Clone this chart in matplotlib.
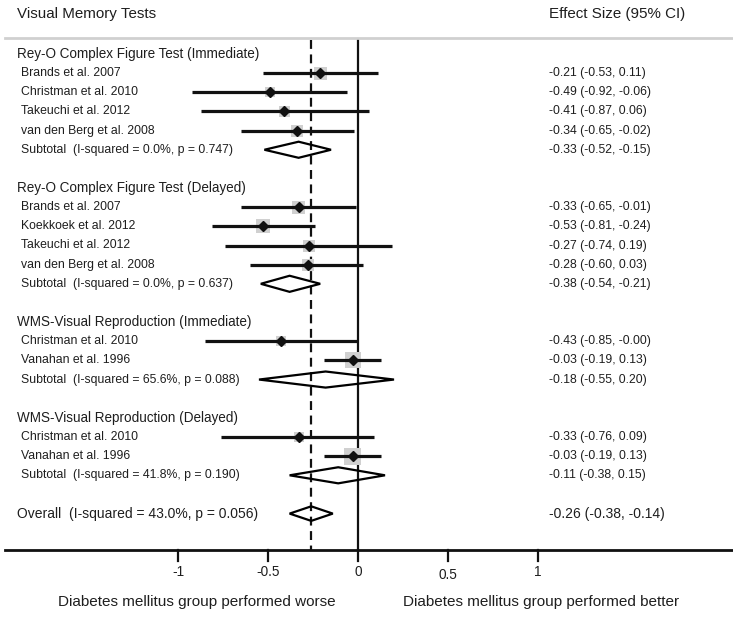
import matplotlib
matplotlib.use("Agg")
import matplotlib.pyplot as plt
import matplotlib.transforms as mtransforms
from matplotlib.patches import Polygon, Rectangle

plt.rcParams['font.family'] = ['Liberation Sans', 'DejaVu Sans']

# data
groups = ["Rey-O Complex Figure Test (Immediate)",
          "Rey-O Complex Figure Test (Delayed)",
          "WMS-Visual Reproduction (Immediate)",
          "WMS-Visual Reproduction (Delayed)"]
studies = [["Brands et al. 2007", "Christman et al. 2010", "Takeuchi et al. 2012", "van den Berg et al. 2008"],
           ["Brands et al. 2007", "Koekkoek et al. 2012", "Takeuchi et al. 2012", "van den Berg et al. 2008"],
           ["Christman et al. 2010", "Vanahan et al. 1996"],
           ["Christman et al. 2010", "Vanahan et al. 1996"]]
es = [[-0.21, -0.49, -0.41, -0.34],
      [-0.33, -0.53, -0.27, -0.28],
      [-0.43, -0.03],
      [-0.33, -0.03]]
lo = [[-0.53, -0.92, -0.87, -0.65],
      [-0.65, -0.81, -0.74, -0.60],
      [-0.85, -0.19],
      [-0.76, -0.19]]
hi = [[0.11, -0.06, 0.06, -0.02],
      [-0.01, -0.24, 0.19, 0.03],
      [-0.0, 0.13],
      [0.09, 0.13]]
weights = [[13, 10, 11, 12],
           [13, 14, 12, 12],
           [10, 16],
           [10, 17]]
sub_labels = ["Subtotal  (I-squared = 0.0%, p = 0.747)",
              "Subtotal  (I-squared = 0.0%, p = 0.637)",
              "Subtotal  (I-squared = 65.6%, p = 0.088)",
              "Subtotal  (I-squared = 41.8%, p = 0.190)"]
sub_es = [-0.33, -0.38, -0.18, -0.11]
sub_lo = [-0.52, -0.54, -0.55, -0.38]
sub_hi = [-0.15, -0.21, 0.20, 0.15]
overall_label = "Overall  (I-squared = 43.0%, p = 0.056)"
overall = (-0.26, -0.38, -0.14)
xticks = [-1, -0.5, 0, 0.5, 1]

W, H = 733, 617
fig = plt.figure(figsize=(W / 100, H / 100), dpi=100)
ax = fig.add_axes([0, 0, 1, 1])
x0 = 358.0
ppu = 180.0
row0, rowh = 54.0, 19.15
ax.set_xlim(-x0 / ppu, (W - x0) / ppu)
ax.set_ylim((H - row0) / rowh, -row0 / rowh)
ax.axis('off')

# x in axes fraction, y in data rows
tr = mtransforms.blended_transform_factory(ax.transAxes, ax.transData)

def fx(p):
    return p / W

def rowy(p):
    return (p - row0) / rowh

fs_top = 10.9
fs_head = 9.75
fs_row = 8.8
fs_overall = 10.0
col = '#1e1e1e'
txt_col = fx(549)

ax.text(fx(17), rowy(14), "Visual Memory Tests", transform=tr, fontsize=fs_top, va='center', color=col)
ax.text(txt_col, rowy(14), "Effect Size (95% CI)", transform=tr, fontsize=fs_top, va='center', color=col)
ax.plot([fx(5), 1], [rowy(38), rowy(38)], transform=tr, color='#d0d0d0', lw=2)

def diamond(c, l, h, y, half=0.42):
    ax.add_patch(Polygon([[l, y], [c, y - half], [h, y], [c, y + half]],
                         closed=True, fill=False, edgecolor='black', lw=1.6, zorder=4))

r = 0
for g in range(len(groups)):
    ax.text(fx(17), r, groups[g], transform=tr, fontsize=fs_head, va='center', color=col)
    r += 1
    for i in range(len(studies[g])):
        ax.text(fx(21), r, studies[g][i], transform=tr, fontsize=fs_row, va='center', color=col)
        ax.plot([lo[g][i], hi[g][i]], [r, r], color='#111111', lw=2.3, zorder=3, solid_capstyle='butt')
        s = weights[g][i] / ppu
        sy = weights[g][i] / rowh
        ax.add_patch(Rectangle((es[g][i] - s / 2, r - sy / 2), s, sy, color='#d0d0d0', zorder=2, lw=0))
        ax.plot(es[g][i], r, marker='D', color='#111111', ms=5, zorder=5)
        ax.text(txt_col, r, "%.2f (%.2f, %.2f)" % (es[g][i], lo[g][i], hi[g][i]),
                transform=tr, fontsize=fs_row, va='center', color=col)
        r += 1
    ax.text(fx(21), r, sub_labels[g], transform=tr, fontsize=fs_row, va='center', color=col)
    diamond(sub_es[g], sub_lo[g], sub_hi[g], r)
    ax.text(txt_col, r, "%.2f (%.2f, %.2f)" % (sub_es[g], sub_lo[g], sub_hi[g]),
            transform=tr, fontsize=fs_row, va='center', color=col)
    r += 2

ax.text(fx(17), r, overall_label, transform=tr, fontsize=fs_overall, va='center', color=col)
diamond(overall[0], overall[1], overall[2], r, half=0.38)
ax.text(txt_col, r, "%.2f (%.2f, %.2f)" % overall, transform=tr, fontsize=fs_overall, va='center', color=col)

# reference lines
ytop, ybot = rowy(40), rowy(550)
ax.plot([0, 0], [ytop, ybot], color='#111111', lw=1.6, zorder=1)
ax.plot([overall[0], overall[0]], [ytop, ybot], color='#111111', lw=1.6, ls=(0, (4, 2.5)), zorder=1)

# x axis
ax.plot([fx(5), 1], [ybot, ybot], transform=tr, color='#111111', lw=2)
for t in xticks:
    ax.plot([t, t], [ybot, rowy(561)], color='#111111', lw=1.6)
    lab = ("%g" % t)
    ty = rowy(575) if t == 0.5 else rowy(572)
    ax.text(t, ty, lab, ha='center', va='center', fontsize=9.8, color=col)

ax.text(fx(196.5), rowy(602), "Diabetes mellitus group performed worse", transform=tr,
        ha='center', va='center', fontsize=11, color=col)
ax.text(fx(541), rowy(602), "Diabetes mellitus group performed better", transform=tr,
        ha='center', va='center', fontsize=11, color=col)

fig.savefig("out.png", dpi=100)
